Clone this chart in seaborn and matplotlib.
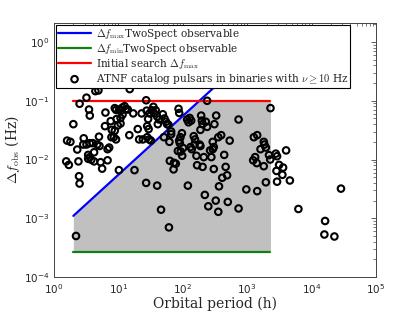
import numpy as np
import matplotlib
matplotlib.use("Agg")
import matplotlib.pyplot as plt
import seaborn as sns
import pandas as pd

# ATNF pulsars: orbital period (h), Delta f_obs (Hz)
period_h = [1.6, 1.8, 2.0, 1.55, 1.7, 2.3, 2.4, 2.45, 2.5, 2.2, 2.5, 3.2, 3.5, 3.6,
            4.4, 4.9, 15, 2.9, 2.85, 3.2, 3.6, 4.0, 3.4, 3.6, 3.4, 3.8, 4.2, 4.2,
            5.0, 5.1, 5.3, 5.6, 4.7, 6.3, 6.2, 6.8, 7.2, 6.8, 7.6, 7.9, 7.8, 8.5,
            8.8, 9.2, 9.2, 8.8, 9.4, 9.8, 10.2, 10.3, 10.8, 11.0, 11.6, 12.5, 10.8,
            11.6, 13, 14, 14.8, 17, 17.8, 20, 21, 23, 24, 27, 27, 27.5, 29, 28,
            29.5, 28, 30, 32, 30.5, 33, 35, 36, 38, 40, 41, 43, 49, 52, 55, 57, 51,
            60, 62, 66, 66, 40, 46, 61, 63, 73, 78, 72, 86, 88, 92, 97, 90, 88, 84,
            98, 117, 123, 128, 120, 132, 138, 135, 148, 155, 152, 163, 167, 183,
            188, 193, 198, 203, 188, 203, 212, 220, 239, 228, 239, 249, 265, 278,
            292, 303, 292, 310, 303, 325, 356, 365, 356, 395, 440, 330, 463, 488,
            500, 535, 410, 735, 735, 970, 1270, 1430, 1240, 1330, 1410, 1430, 1810,
            1850, 1950, 1610, 1810, 1950, 2180, 2280, 2300, 2780, 2910, 2850, 2910,
            3130, 3610, 3520, 4020, 4600, 6240, 15800, 16200, 22600, 28600, 101, 93]
delta_f = [0.021, 0.020, 0.040, 0.0093, 0.0081, 0.0148, 0.0093, 0.0052, 0.0039,
           0.0005, 0.089, 0.113, 0.071, 0.056, 0.146, 0.150, 0.158, 0.023, 0.018,
           0.018, 0.019, 0.019, 0.012, 0.011, 0.0103, 0.0099, 0.0133, 0.0093,
           0.0245, 0.017, 0.009, 0.007, 0.018, 0.063, 0.037, 0.015, 0.016, 0.0097,
           0.045, 0.032, 0.024, 0.024, 0.075, 0.070, 0.022, 0.031, 0.049, 0.038,
           0.0066, 0.071, 0.041, 0.068, 0.077, 0.081, 0.051, 0.058, 0.072, 0.071,
           0.026, 0.061, 0.0066, 0.033, 0.022, 0.061, 0.022, 0.004, 0.102, 0.068,
           0.049, 0.037, 0.033, 0.024, 0.022, 0.021, 0.061, 0.069, 0.079, 0.061,
           0.069, 0.054, 0.040, 0.048, 0.059, 0.050, 0.044, 0.040, 0.024, 0.039,
           0.020, 0.030, 0.027, 0.0036, 0.0014, 0.0007, 0.0095, 0.0088, 0.0085,
           0.0068, 0.073, 0.062, 0.024, 0.028, 0.019, 0.021, 0.014, 0.0116, 0.048,
           0.043, 0.051, 0.0036, 0.0163, 0.015, 0.046, 0.025, 0.022, 0.018, 0.0116,
           0.008, 0.018, 0.017, 0.056, 0.046, 0.040, 0.032, 0.0075, 0.011, 0.0025,
           0.1, 0.044, 0.036, 0.0016, 0.0143, 0.011, 0.020, 0.0163, 0.015, 0.040,
           0.0069, 0.002, 0.00129, 0.0035, 0.024, 0.026, 0.012, 0.056, 0.0075,
           0.0054, 0.0019, 0.021, 0.0049, 0.048, 0.00147, 0.0031, 0.024, 0.026,
           0.0097, 0.011, 0.0087, 0.0029, 0.020, 0.018, 0.016, 0.015, 0.0077,
           0.0041, 0.0119, 0.010, 0.075, 0.0126, 0.0114, 0.0064, 0.0042, 0.0081,
           0.0073, 0.0055, 0.0143, 0.0044, 0.00144, 0.00053, 0.0009, 0.00049,
           0.0032, 0.0157, 0.0137]

# TwoSpect limits
max_obs_period = [2, 2300]
max_obs_df = [1.1e-3, 1.27]
min_obs_period = [2, 2300]
min_obs_df = [2.7e-4, 2.7e-4]
search_period = [2, 2300]
search_df = [0.1, 0.1]
region_period = [2, 178, 2300]
region_top = [1.1e-3, 0.1, 0.1]
region_bottom = 2.7e-4

pulsars = pd.DataFrame({"period": period_h, "df": delta_f})

sns.set_theme(style="white")
plt.rcParams["font.family"] = ["DejaVu Serif"]
plt.rcParams["mathtext.fontset"] = "cm"
plt.rcParams["xtick.direction"] = "in"
plt.rcParams["ytick.direction"] = "in"

fig = plt.figure(figsize=(4.15, 3.12), dpi=100)
ax = fig.add_axes([0.130, 0.112, 0.776, 0.814])

ax.fill_between(region_period, region_bottom, region_top, color="#c0c0c0", lw=0, zorder=1)

sns.lineplot(x=max_obs_period, y=max_obs_df, ax=ax, color="blue", lw=1.6,
             label=r"$\Delta f_{\rm max}$TwoSpect observable", zorder=3)
sns.lineplot(x=min_obs_period, y=min_obs_df, ax=ax, color="#118011", lw=1.6,
             label=r"$\Delta f_{\rm min}$TwoSpect observable", zorder=3)
sns.lineplot(x=search_period, y=search_df, ax=ax, color="red", lw=1.6,
             label=r"Initial search $\Delta f_{\rm max}$", zorder=3)
sns.scatterplot(data=pulsars, x="period", y="df", ax=ax, marker="o", s=22,
                facecolor="none", edgecolor="black", linewidth=1.5, zorder=4,
                label=r"ATNF catalog pulsars in binaries with $\nu \geq 10$ Hz")

ax.set_xscale("log")
ax.set_yscale("log")
ax.set_xlim(1, 1e5)
ax.set_ylim(1e-4, 2.1)
ax.set_xticks([1, 10, 100, 1e3, 1e4, 1e5])
ax.set_yticks([1e-4, 1e-3, 1e-2, 1e-1, 1])

for t in ax.get_xticklabels() + ax.get_yticklabels():
    t.set_family("DejaVu Sans")
    t.set_fontsize(7.5)
ax.tick_params(which="both", top=True, right=True, color="#444444")
ax.tick_params(which="major", length=3.5, width=0.6)
ax.tick_params(which="minor", length=2, width=0.5)
for s in ax.spines.values():
    s.set_color("#444444")
    s.set_linewidth(0.7)

ax.set_xlabel("Orbital period (h)", fontsize=10, labelpad=1)
ax.set_ylabel(r"$\Delta f_{\rm obs}$ (Hz)", fontsize=10, labelpad=1)

leg = ax.legend(loc="upper left", fontsize=7.6, frameon=True, fancybox=False,
                borderpad=0.15, labelspacing=0.1, handlelength=3.2,
                handletextpad=0.4, borderaxespad=0.2, framealpha=1)
leg.get_frame().set_edgecolor("black")
leg.get_frame().set_linewidth(0.8)

fig.savefig("out.png", dpi=100)
